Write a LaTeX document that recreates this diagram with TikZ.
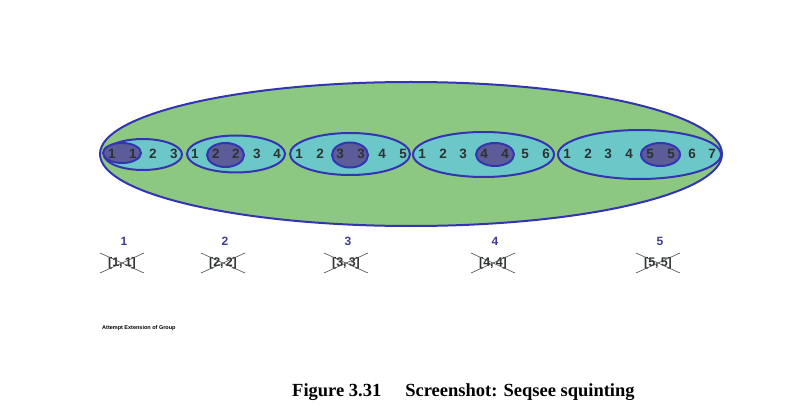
\documentclass[tikz,border=0pt]{standalone}
\usepackage{fontspec}
\setmainfont{Liberation Serif}
\newfontfamily\digfont{Liberation Sans}
\definecolor{bigfill}{RGB}{141,200,130}
\definecolor{grpfill}{RGB}{108,200,200}
\definecolor{darkfill}{RGB}{92,92,152}
\definecolor{rimblue}{RGB}{52,52,178}
\definecolor{digcol}{RGB}{45,50,50}
\definecolor{labcol}{RGB}{60,60,150}
\tikzset{
  rim/.style={draw=rimblue, line width=2pt},
  dig/.style={font=\digfont\bfseries\fontsize{13.5}{13.5}\selectfont, text=digcol, inner sep=0pt, anchor=center},
  grplab/.style={font=\digfont\bfseries\fontsize{12}{12}\selectfont, text=labcol, inner sep=0pt},
  pair/.style={font=\digfont\bfseries\fontsize{12.5}{12.5}\selectfont, text=digcol, inner sep=0pt},
  cross/.style={draw=black!70, line width=0.6pt}
}
\begin{document}
\begin{tikzpicture}[x=1pt,y=1pt]
\useasboundingbox[fill=white] (0,0) rectangle (800,-406);
% big outer ellipse
\fill[bigfill, rim] (411,-154) ellipse [x radius=311, y radius=72];
% group ellipses
\fill[grpfill, rim] (143,-154.5) ellipse [x radius=39, y radius=15.5];
\fill[grpfill, rim] (236,-154) ellipse [x radius=49, y radius=18.5];
\fill[grpfill, rim] (350,-154) ellipse [x radius=60, y radius=21];
\fill[grpfill, rim] (483.5,-154.5) ellipse [x radius=70.5, y radius=22.5];
\fill[grpfill, rim] (639.5,-154.5) ellipse [x radius=81.5, y radius=24.5];
% dark inner ellipses
\fill[darkfill, rim] (122,-153) ellipse [x radius=19, y radius=10];
\fill[darkfill, rim] (225.5,-155) ellipse [x radius=18.5, y radius=12];
\fill[darkfill, rim] (350,-155) ellipse [x radius=18, y radius=12.5];
\fill[darkfill, rim] (495,-154.5) ellipse [x radius=19, y radius=11.5];
\fill[darkfill, rim] (660.5,-154.5) ellipse [x radius=19.5, y radius=11.5];
% digits
\foreach \x/\t [count=\i] in {112/1,133/1,153/2,174/3,
  195/1,216/2,236/2,257/3,277/4,
  299/1,320/2,340/3,361/3,382/4,403/5,
  422/1,443/2,463/3,484/4,505/4,525/5,546/6,
  567/1,588/2,608/3,629/4,650/5,671/5,692/6,712/7}
  \node[dig] (d\i) at (\x,-154) {\t};
% group labels and crossed pairs
\foreach \x/\t in {124/1,225/2,348/3,495/4,660/5}{
  \node[grplab] (g\t) at (\x,-241) {\t};
  \node[pair] (p\t) at (\x-2,-263) {[\t,\,\t]};
  \draw[cross] ([shift={(-22,10)}]p\t.center) -- ([shift={(22,-10)}]p\t.center);
  \draw[cross] ([shift={(-22,-10)}]p\t.center) -- ([shift={(22,10)}]p\t.center);
}
\node[font=\digfont\bfseries\fontsize{5.5}{6}\selectfont, anchor=west, inner sep=0pt] (att) at (102,-328) {Attempt Extension of Group};
\node[font=\bfseries\fontsize{18.5}{18.5}\selectfont, anchor=base west, inner sep=0pt] (cap) at (292,-396) {Figure 3.31\hspace{24pt}Screenshot: Seqsee squinting};
\end{tikzpicture}
\end{document}
